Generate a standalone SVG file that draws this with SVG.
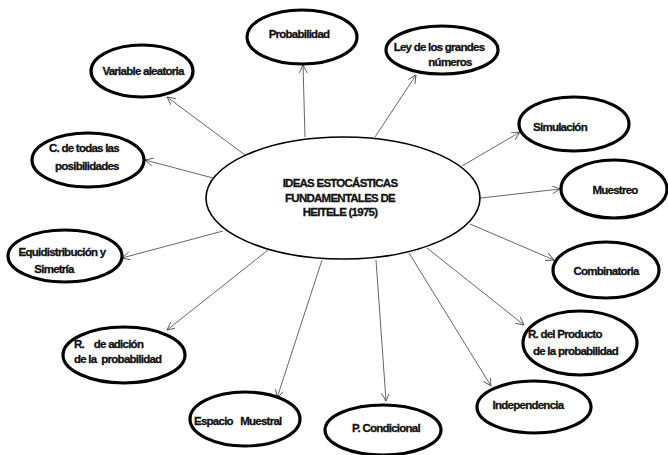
<svg xmlns="http://www.w3.org/2000/svg" width="668" height="455" viewBox="0 0 668 455">
<defs>
<marker id="ah" markerWidth="10" markerHeight="10" refX="8" refY="4" orient="auto" markerUnits="userSpaceOnUse">
<path d="M0,0 L8,4 L0,8" fill="none" stroke="#555" stroke-width="0.9"/>
</marker>
<style>
.n{fill:#fff;stroke:#000;stroke-width:3.2}
.c{fill:#fff;stroke:#000;stroke-width:1.6}
.t{font-family:"Liberation Sans",Arial,sans-serif;font-weight:bold;font-size:11.5px;letter-spacing:-0.75px;fill:#111;stroke:#111;stroke-width:0.3}
.m{text-anchor:middle}
.e{stroke:#555;stroke-width:0.9;fill:none;marker-end:url(#ah)}
</style>
</defs>
<rect width="668" height="455" fill="#fff"/>
<g id="connectors">
<line class="e" x1="305" y1="137" x2="303" y2="65"/>
<line class="e" x1="245" y1="155" x2="167" y2="97"/>
<line class="e" x1="213" y1="178" x2="145" y2="160"/>
<line class="e" x1="375" y1="137" x2="416" y2="75"/>
<line class="e" x1="462" y1="166" x2="520" y2="132"/>
<line class="e" x1="481" y1="198" x2="560" y2="189"/>
<line class="e" x1="470" y1="224" x2="554" y2="260"/>
<line class="e" x1="427" y1="248" x2="524" y2="325"/>
<line class="e" x1="409" y1="253" x2="491" y2="386"/>
<line class="e" x1="376" y1="260" x2="386" y2="401"/>
<line class="e" x1="322" y1="260" x2="277" y2="398"/>
<line class="e" x1="268" y1="250" x2="167" y2="330"/>
<line class="e" x1="223" y1="231" x2="122" y2="258"/>
</g>
<g id="center">
<ellipse class="c" cx="343" cy="198" rx="137" ry="61"/>
<text class="t m" x="340" y="187">IDEAS ESTOCÁSTICAS</text>
<text class="t m" x="340" y="202">FUNDAMENTALES DE</text>
<text class="t m" x="340" y="216">HEITELE (1975)</text>
</g>
<g id="probabilidad">
<ellipse class="n" cx="302" cy="37" rx="55" ry="27"/>
<text class="t m" x="299" y="38">Probabilidad</text>
</g>
<g id="variable">
<ellipse class="n" cx="142" cy="71" rx="51" ry="26"/>
<text class="t m" x="143" y="75">Variable aleatoria</text>
</g>
<g id="ctodas">
<ellipse class="n" cx="88" cy="160" rx="56" ry="27"/>
<text class="t" x="49" y="152">C. de todas las</text>
<text class="t" x="55" y="170">posibilidades</text>
</g>
<g id="ley">
<ellipse class="n" cx="442" cy="50" rx="56" ry="24"/>
<text class="t m" x="439" y="51">Ley de los grandes</text>
<text class="t m" x="450" y="66">números</text>
</g>
<g id="simulacion">
<ellipse class="n" cx="574" cy="124" rx="55" ry="27"/>
<text class="t m" x="560" y="131">Simulación</text>
</g>
<g id="muestreo">
<ellipse class="n" cx="614" cy="189" rx="53" ry="29"/>
<text class="t m" x="615" y="194">Muestreo</text>
</g>
<g id="combinatoria">
<ellipse class="n" cx="606" cy="270" rx="53" ry="28"/>
<text class="t m" x="606" y="275">Combinatoria</text>
</g>
<g id="producto">
<ellipse class="n" cx="580" cy="343" rx="57" ry="32"/>
<text class="t" x="528" y="338">R. del Producto</text>
<text class="t" x="533" y="355">de la probabilidad</text>
</g>
<g id="independencia">
<ellipse class="n" cx="534" cy="407" rx="57" ry="26"/>
<text class="t m" x="528" y="409">Independencia</text>
</g>
<g id="pcondicional">
<ellipse class="n" cx="383" cy="430" rx="58" ry="25"/>
<text class="t m" x="386" y="432">P. Condicional</text>
</g>
<g id="espacio">
<ellipse class="n" cx="245" cy="419" rx="55" ry="27"/>
<text class="t" x="194" y="425" xml:space="preserve">Espacio   Muestral</text>
</g>
<g id="adicion">
<ellipse class="n" cx="124" cy="355" rx="61" ry="28"/>
<text class="t" x="74" y="348" xml:space="preserve">R.    de adición</text>
<text class="t" x="74" y="363" xml:space="preserve">de la  probabilidad</text>
</g>
<g id="equidistribucion">
<ellipse class="n" cx="65" cy="256" rx="57" ry="26"/>
<text class="t m" x="62" y="256">Equidistribución y</text>
<text class="t m" x="54" y="273">Simetría</text>
</g>
</svg>
